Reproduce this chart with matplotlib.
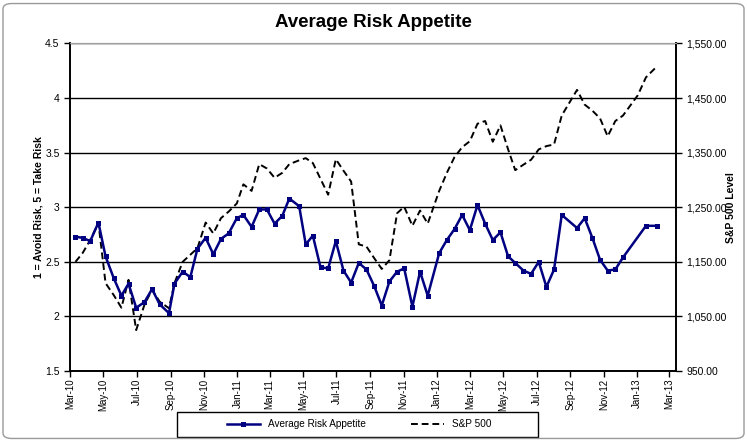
import pandas as pd
import matplotlib
matplotlib.use('Agg')
import matplotlib.pyplot as plt
import matplotlib.dates as mdates
from matplotlib.ticker import FuncFormatter, MultipleLocator, FixedLocator
from matplotlib.patches import FancyBboxPatch, Rectangle

plt.rcParams['font.family'] = ['Liberation Sans', 'DejaVu Sans']

dates = [
    '2010-03-11', '2010-03-24', '2010-04-07', '2010-04-22', '2010-05-05', '2010-05-20',
    '2010-06-03', '2010-06-16', '2010-06-30', '2010-07-15', '2010-07-29', '2010-08-12',
    '2010-08-29', '2010-09-08', '2010-09-23', '2010-10-07', '2010-10-20', '2010-11-04',
    '2010-11-18', '2010-12-02', '2010-12-16', '2010-12-31', '2011-01-12', '2011-01-27',
    '2011-02-10', '2011-02-24', '2011-03-10', '2011-03-24', '2011-04-06', '2011-04-24',
    '2011-05-06', '2011-05-19', '2011-06-02', '2011-06-16', '2011-06-30', '2011-07-14',
    '2011-07-28', '2011-08-11', '2011-08-25', '2011-09-08', '2011-09-22', '2011-10-06',
    '2011-10-20', '2011-11-02', '2011-11-17', '2011-12-01', '2011-12-15', '2012-01-05',
    '2012-01-19', '2012-02-02', '2012-02-16', '2012-03-01', '2012-03-15', '2012-03-29',
    '2012-04-12', '2012-04-26', '2012-05-10', '2012-05-23', '2012-06-07', '2012-06-21',
    '2012-07-05', '2012-07-19', '2012-08-02', '2012-08-16', '2012-09-13', '2012-09-27',
    '2012-10-11', '2012-10-25', '2012-11-08', '2012-11-22', '2012-12-06', '2013-01-02',
    '2013-01-17', '2013-02-06',
]

# None = no survey that week (line joins across the gap)
risk_appetite = [
    2.73, 2.72, 2.69, 2.86, 2.55, 2.35, 2.19, 2.30, 2.08, 2.13, 2.25, 2.11,
    2.03, 2.30, 2.41, 2.36, 2.62, 2.72, 2.57, 2.71, 2.76, 2.90, 2.93, 2.82,
    2.98, 2.98, 2.85, 2.92, 3.08, 3.01, 2.66, 2.74, 2.45, 2.44, 2.69, 2.42,
    2.31, 2.49, 2.43, 2.28, 2.10, 2.32, 2.41, 2.44, 2.09, 2.41, 2.19, 2.58,
    2.70, 2.80, 2.93, 2.79, 3.02, 2.85, 2.70, 2.77, 2.55, 2.49, 2.42, 2.39,
    2.50, 2.27, 2.43, 2.93, 2.81, 2.90, 2.72, 2.52, 2.42, 2.43, 2.54, None,
    2.83, 2.83,
]

sp500 = [
    1150, 1166, 1190, 1221, 1111, 1089, 1066, 1117, 1025, 1071, 1099, 1077,
    1065, 1111, 1150, 1163, 1175, 1222, 1202, 1230, 1242, 1257, 1292, 1280,
    1329, 1321, 1304, 1313, 1329, 1336, 1340, 1331, 1302, 1273, 1338, 1317,
    1297, 1182, 1178, 1157, 1137, 1153, 1239, 1251, 1216, 1244, 1220, 1280,
    1313, 1342, 1360, 1371, 1403, 1408, 1370, 1400, 1356, 1318, 1328, 1337,
    1356, 1362, 1365, 1418, 1465, 1438, 1427, 1413, 1380, 1408, 1418, 1455,
    1488, 1508,
]

sp_ticks = [950, 1050, 1150, 1250, 1350, 1450, 1550]

df = pd.DataFrame({'date': pd.to_datetime(dates),
                   'risk': pd.array(risk_appetite, dtype='Float64'),
                   'sp500': sp500})
risk_df = df.dropna(subset=['risk'])

fig = plt.figure(figsize=(7.47, 4.42), dpi=100)
ax = fig.add_axes([0.0937, 0.1606, 0.8113, 0.741])
ax2 = ax.twinx()

ax2.plot(df['date'], df['sp500'], color='black', linestyle=(0, (3.5, 2)),
         linewidth=1.4, label='S&P 500')
ax.plot(risk_df['date'], risk_df['risk'].astype(float), color='#000080',
        linewidth=1.8, marker='s', markersize=3.6, markeredgewidth=0,
        label='Average Risk Appetite')

# axes on top so the blue series sits over the dashed one
ax.set_zorder(ax2.get_zorder() + 1)
ax.patch.set_visible(False)

ax.set_ylim(1.5, 4.5)
ax.yaxis.set_major_locator(MultipleLocator(0.5))
ax.yaxis.set_major_formatter(FuncFormatter(lambda v, p: '%g' % v))
ax2.set_ylim(950, 1550)
ax2.yaxis.set_major_locator(FixedLocator(sp_ticks))
ax2.yaxis.set_major_formatter(FuncFormatter(lambda v, p: '{:,.2f}'.format(v)))
ax2.grid(axis='y', color='black', linewidth=1)

ax.set_xlim(pd.Timestamp('2010-03-01'), pd.Timestamp('2013-03-13'))
ax.xaxis.set_major_locator(mdates.MonthLocator(bymonth=[1, 3, 5, 7, 9, 11]))
ax.xaxis.set_major_formatter(mdates.DateFormatter('%b-%y'))
plt.setp(ax.get_xticklabels(), rotation=90)

for a in (ax, ax2):
    a.tick_params(labelsize=7.5, length=4, width=1, colors='black')
    a.spines['top'].set_color('#a0a0a0')
    for s in ('left', 'right', 'bottom'):
        a.spines[s].set_linewidth(1.2)
ax.tick_params(axis='x', labelsize=7, pad=1.5)

ax.set_title('Average Risk Appetite', fontsize=13.5, fontweight='bold', pad=12)
ax.set_ylabel('1 = Avoid Risk, 5 = Take Risk', fontsize=7.5, fontweight='bold')
ax.yaxis.set_label_coords(-0.043, 0.5)
ax2.set_ylabel('S&P 500 Level', fontsize=7.5, fontweight='bold')
ax2.yaxis.set_label_coords(1.083, 0.5)

h1, l1 = ax.get_legend_handles_labels()
h2, l2 = ax2.get_legend_handles_labels()
fig.legend(h1 + h2, l1 + l2, loc='center', bbox_to_anchor=(0.481, 0.040),
           ncol=2, fontsize=7.2, frameon=False, handlelength=3.3,
           columnspacing=4.6, borderaxespad=0)
fig.patches.append(Rectangle((0.237, 0.0113), 0.483, 0.056, transform=fig.transFigure,
                             facecolor='none', edgecolor='black', linewidth=1))

border = FancyBboxPatch((0.004, 0.008), 0.992, 0.984, boxstyle='round,pad=0,rounding_size=0.012',
                        transform=fig.transFigure, facecolor='none',
                        edgecolor='#9a9a9a', linewidth=1)
fig.patches.append(border)

fig.savefig('out.png', dpi=100)
